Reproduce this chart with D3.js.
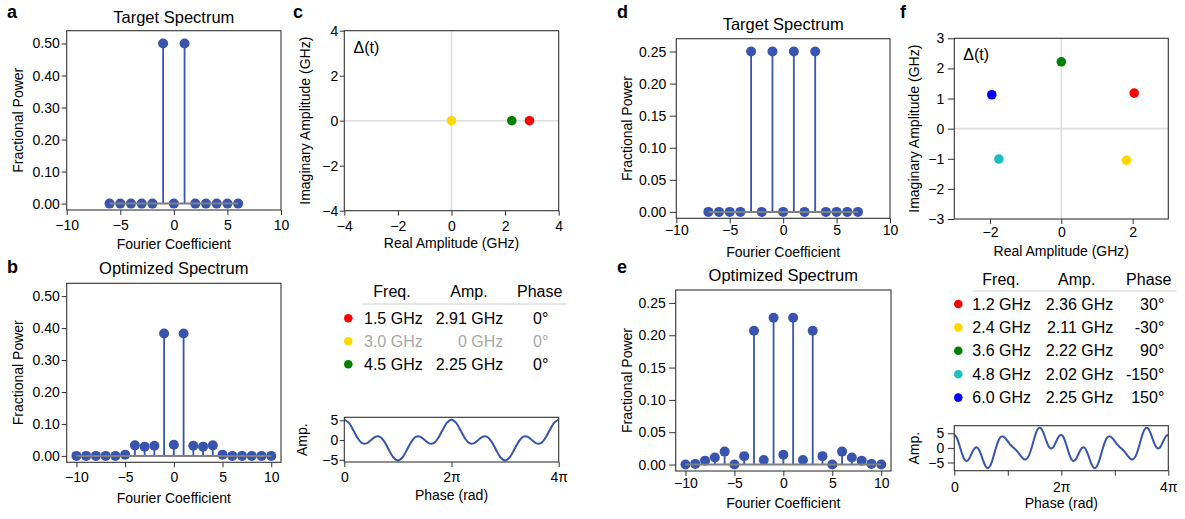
<!DOCTYPE html>
<html>
<head>
<meta charset="utf-8">
<script src="https://cdn.jsdelivr.net/npm/d3@7"></script>
<style>
  body { margin: 0; background: #fff; }
  svg { display: block; font-family: "Liberation Sans", Arial, Helvetica, sans-serif; }
</style>
</head>
<body>
<script>
// ---------- data ----------
// (a) target spectrum, two-tone drive
const targetACoeff = [-6, -5, -4, -3, -2, -1, 0, 1, 2, 3, 4, 5, 6];
const targetAPower = [0, 0, 0, 0, 0, 0.5, 0, 0.5, 0, 0, 0, 0, 0];

// (b) optimized spectrum
const optimBCoeff = [-10, -9, -8, -7, -6, -5, -4, -3, -2, -1, 0, 1, 2, 3, 4, 5, 6, 7, 8, 9, 10];
const optimBPower = [0, 0, 0, 0, 0, 0.004, 0.033, 0.029, 0.032, 0.383, 0.035, 0.383, 0.032, 0.029, 0.033, 0.004, 0, 0, 0, 0, 0];

// (c) drive components
const freqC = [1.5, 3.0, 4.5];
const ampC = [2.91, 0, 2.25];
const phaseC = [0, 0, 0];
const colorC = ["#ff0000", "#ffd700", "#008000"];

// (c) waveform Δ(t), sampled every π/12 from 0 to 4π
const waveCStep = Math.PI / 12;
const waveCAmp = [
  5.16, 4.40, 2.52, 0.47, -0.80, -0.84, 0, 0.84, 0.80, -0.47, -2.52, -4.40,
  -5.16, -4.40, -2.52, -0.47, 0.80, 0.84, 0, -0.84, -0.80, 0.47, 2.52, 4.40,
  5.16, 4.40, 2.52, 0.47, -0.80, -0.84, 0, 0.84, 0.80, -0.47, -2.52, -4.40,
  -5.16, -4.40, -2.52, -0.47, 0.80, 0.84, 0, -0.84, -0.80, 0.47, 2.52, 4.40,
  5.16
];

// (d) target spectrum, four-tone drive
const targetDCoeff = [-7, -6, -5, -4, -3, -2, -1, 0, 1, 2, 3, 4, 5, 6, 7];
const targetDPower = [0, 0, 0, 0, 0.25, 0, 0.25, 0, 0.25, 0, 0.25, 0, 0, 0, 0];

// (e) optimized spectrum
const optimECoeff = [-10, -9, -8, -7, -6, -5, -4, -3, -2, -1, 0, 1, 2, 3, 4, 5, 6, 7, 8, 9, 10];
const optimEPower = [0, 0.001, 0.006, 0.011, 0.020, 0, 0.013, 0.207, 0.007, 0.227, 0.015, 0.227, 0.007, 0.207, 0.013, 0, 0.020, 0.011, 0.006, 0.001, 0];

// (f) drive components
const freqF = [1.2, 2.4, 3.6, 4.8, 6.0];
const ampF = [2.36, 2.11, 2.22, 2.02, 2.25];
const phaseF = [30, -30, 90, -150, 150];
const colorF = ["#ff0000", "#ffd700", "#008000", "#1cc0c0", "#0000ff"];

// (f) waveform Δ(t), sampled every π/36 from 0 to 4π
const waveFStep = Math.PI / 36;
const waveFAmp = [
  4.45, 4.02, 3.04, 1.64, 0, -1.64, -3.04, -4.02, -4.45, -4.30, -3.66, -2.69,
  -1.59, -0.62, 0.03, 0.20, -0.17, -1.05, -2.30, -3.74, -5.12, -6.21, -6.83, -6.86,
  -6.27, -5.13, -3.57, -1.80, -0.02, 1.57, 2.80, 3.60, 3.95, 3.88, 3.49, 2.91,
  2.25, 1.59, 1.00, 0.48, 0, -0.48, -1.00, -1.59, -2.25, -2.91, -3.49, -3.88,
  -3.95, -3.60, -2.80, -1.57, 0.02, 1.80, 3.57, 5.13, 6.27, 6.86, 6.83, 6.21,
  5.12, 3.74, 2.30, 1.05, 0.17, -0.20, -0.03, 0.62, 1.59, 2.69, 3.66, 4.30,
  4.45, 4.02, 3.04, 1.64, 0, -1.64, -3.04, -4.02, -4.45, -4.30, -3.66, -2.69,
  -1.59, -0.62, 0.03, 0.20, -0.17, -1.05, -2.30, -3.74, -5.12, -6.21, -6.83, -6.86,
  -6.27, -5.13, -3.57, -1.80, -0.02, 1.57, 2.80, 3.60, 3.95, 3.88, 3.49, 2.91,
  2.25, 1.59, 1.00, 0.48, 0, -0.48, -1.00, -1.59, -2.25, -2.91, -3.49, -3.88,
  -3.95, -3.60, -2.80, -1.57, 0.02, 1.80, 3.57, 5.13, 6.27, 6.86, 6.83, 6.21,
  5.12, 3.74, 2.30, 1.05, 0.17, -0.20, -0.03, 0.62, 1.59, 2.69, 3.66, 4.30,
  4.45
];

// tick labels
const coeffTicks = [-10, -5, 0, 5, 10];
const powerTicksAB = [0, 0.1, 0.2, 0.3, 0.4, 0.5];
const powerTicksDE = [0, 0.05, 0.1, 0.15, 0.2, 0.25];
const iqTicksC = [-4, -2, 0, 2, 4];
const iqTicksF = [-3, -2, -1, 0, 1, 2, 3];
const iqXTicksF = [-2, 0, 2];
const waveYTicks = [-5, 0, 5];
const phaseTicks = [0, Math.PI, 2 * Math.PI, 3 * Math.PI, 4 * Math.PI];
const phaseTickText = ["0", "", "2π", "", "4π"];
const tableHeaders = ["Freq.", "Amp.", "Phase"];

// ---------- styling ----------
const BLUE = "#3854ae";
const SPINE = "#333";
const GREYLINE = "#7f7f7f";
const TICK_FS = 14;

const svg = d3.select("body").append("svg")
  .attr("width", 1185).attr("height", 519);

function makePanel(box, xDom, yDom) {
  const g = svg.append("g").attr("transform", `translate(${box.l},${box.t})`);
  const w = box.r - box.l, h = box.b - box.t;
  const x = d3.scaleLinear().domain(xDom).range([0, w]);
  const y = d3.scaleLinear().domain(yDom).range([h, 0]);
  return { g, x, y, w, h, box };
}

function drawAxes(p, o) {
  const xa = d3.axisBottom(p.x).tickValues(o.xTicks).tickFormat(o.xFmt)
    .tickSize(o.xSize).tickPadding(o.xPad).tickSizeOuter(0);
  const ya = d3.axisLeft(p.y).tickValues(o.yTicks).tickFormat(o.yFmt)
    .tickSize(o.ySize).tickPadding(o.yPad).tickSizeOuter(0);
  [p.g.append("g").attr("transform", `translate(0,${p.h})`).call(xa),
   p.g.append("g").call(ya)].forEach(a => {
    a.select(".domain").remove();
    a.selectAll(".tick line").attr("stroke", SPINE).attr("stroke-width", 1);
    a.selectAll(".tick text").attr("fill", "#000")
      .style("font-size", TICK_FS + "px")
      .style("font-family", '"Liberation Sans", Arial, sans-serif');
  });
}

function drawFrame(p) {
  p.g.append("rect").attr("x", 0).attr("y", 0)
    .attr("width", p.w).attr("height", p.h)
    .attr("fill", "none").attr("stroke", SPINE).attr("stroke-width", 1.1);
}

function text(str, x, y, opts = {}) {
  const t = svg.append("text").attr("x", x).attr("y", y).text(str)
    .attr("fill", opts.fill || "#000")
    .attr("text-anchor", opts.anchor || "start")
    .style("font-size", (opts.size || 14) + "px");
  if (opts.bold) t.style("font-weight", "bold");
  return t;
}

function vtext(str, x, yc, size = 14) {
  svg.append("text").attr("transform", `translate(${x},${yc}) rotate(-90)`)
    .attr("text-anchor", "middle").attr("fill", "#000")
    .style("font-size", size + "px").text(str);
}

function stemPanel(p, coeff, power) {
  const pts = coeff.map((k, i) => ({ k, v: power[i] }));
  p.g.selectAll(null).data(pts).enter().append("line")
    .attr("x1", d => p.x(d.k)).attr("x2", d => p.x(d.k))
    .attr("y1", p.y(0)).attr("y2", d => p.y(d.v))
    .attr("stroke", BLUE).attr("stroke-width", 1.8);
  p.g.selectAll(null).data(pts).enter().append("circle")
    .attr("cx", d => p.x(d.k)).attr("cy", d => p.y(d.v)).attr("r", 5)
    .attr("fill", BLUE);
  p.g.append("line")
    .attr("x1", p.x(d3.min(coeff))).attr("x2", p.x(d3.max(coeff)))
    .attr("y1", p.y(0)).attr("y2", p.y(0))
    .attr("stroke", GREYLINE).attr("stroke-width", 2);
}

function iqPanel(p, amp, phase, color) {
  p.g.append("line").attr("x1", p.x(0)).attr("x2", p.x(0))
    .attr("y1", 0).attr("y2", p.h).attr("stroke", "#dedede").attr("stroke-width", 1.6);
  p.g.append("line").attr("x1", 0).attr("x2", p.w)
    .attr("y1", p.y(0)).attr("y2", p.y(0)).attr("stroke", "#dedede").attr("stroke-width", 1.6);
  const pts = amp.map((a, i) => ({
    re: a * Math.cos(phase[i] * Math.PI / 180),
    im: a * Math.sin(phase[i] * Math.PI / 180),
    c: color[i]
  }));
  p.g.selectAll(null).data(pts).enter().append("circle")
    .attr("cx", d => p.x(d.re)).attr("cy", d => p.y(d.im)).attr("r", 4.8)
    .attr("fill", d => d.c);
}

function wavePanel(p, values, step) {
  const line = d3.line()
    .x((d, i) => p.x(i * step)).y(d => p.y(d))
    .curve(d3.curveCatmullRom.alpha(0.5));
  p.g.append("path").datum(values).attr("d", line)
    .attr("fill", "none").attr("stroke", BLUE).attr("stroke-width", 2);
}

function drawTable(t, freq, amp, phase, color) {
  tableHeaders.forEach((h, i) => text(h, t.headX[i], t.headY, { size: 16, anchor: "middle" }));
  svg.append("line").attr("x1", t.lineX1).attr("x2", t.lineX2)
    .attr("y1", t.lineY).attr("y2", t.lineY)
    .attr("stroke", "#d0d0d0").attr("stroke-width", 1);
  freq.forEach((f, i) => {
    const yc = t.rowY0 + i * t.rowStep;
    const fill = amp[i] === 0 ? "#a8a8a8" : "#000";
    svg.append("circle").attr("cx", t.dotX).attr("cy", yc).attr("r", 4.3).attr("fill", color[i]);
    text(`${f.toFixed(1)} GHz`, t.freqX, yc + 5.6, { size: 16, fill });
    text(`${amp[i] === 0 ? "0" : amp[i].toFixed(2)} GHz`, t.ampRight, yc + 5.6, { size: 16, fill, anchor: "end" });
    text(`${phase[i]}°`, t.phaseRight, yc + 5.6, { size: 16, fill, anchor: "end" });
  });
}

const fmt2 = d3.format(".2f");
const fmtInt = d3.format("d");

// ---------- (a) ----------
const pA = makePanel({ l: 66.7, r: 281, t: 30.7, b: 210 }, [-10, 10], [-0.02, 0.54]);
stemPanel(pA, targetACoeff, targetAPower);
drawAxes(pA, { xTicks: coeffTicks, xFmt: fmtInt, xSize: 5, xPad: 5,
  yTicks: powerTicksAB, yFmt: fmt2, ySize: 5, yPad: 2 });
drawFrame(pA);
text("Target Spectrum", 173.8, 22.7, { size: 16.5, anchor: "middle" });
text("Fourier Coefficient", 173.8, 249, { anchor: "middle" });
vtext("Fractional Power", 22.7, 120.3);
text("a", 7, 17.5, { size: 18, bold: true });

// ---------- (b) ----------
const pB = makePanel({ l: 66.7, r: 281, t: 283.3, b: 462.3 }, [-11, 11], [-0.02, 0.54]);
stemPanel(pB, optimBCoeff, optimBPower);
drawAxes(pB, { xTicks: coeffTicks, xFmt: fmtInt, xSize: 5, xPad: 5,
  yTicks: powerTicksAB, yFmt: fmt2, ySize: 5, yPad: 2 });
drawFrame(pB);
text("Optimized Spectrum", 173.8, 274, { size: 16.5, anchor: "middle" });
text("Fourier Coefficient", 173.8, 503, { anchor: "middle" });
vtext("Fractional Power", 22.7, 372.8);
text("b", 7, 273.3, { size: 18, bold: true });

// ---------- (c) ----------
const pC = makePanel({ l: 344.3, r: 558.7, t: 30.7, b: 210.7 }, [-4, 4], [-4, 4]);
iqPanel(pC, ampC, phaseC, colorC);
drawAxes(pC, { xTicks: iqTicksC, xFmt: fmtInt, xSize: 5, xPad: 5,
  yTicks: iqTicksC, yFmt: fmtInt, ySize: 4.5, yPad: 1.5 });
drawFrame(pC);
text("Δ(t)", 353.5, 52.5, { size: 16 });
text("Real Amplitude (GHz)", 451.5, 247.5, { anchor: "middle" });
vtext("Imaginary Amplitude (GHz)", 309.7, 120.7);
text("c", 293, 17.5, { size: 18, bold: true });

drawTable({ headX: [392, 469, 539.7], headY: 296.5, lineX1: 361.7, lineX2: 566.7, lineY: 304,
  rowY0: 318.3, rowStep: 23, dotX: 348.3, freqX: 364, ampRight: 503.3, phaseRight: 548.3 },
  freqC, ampC, phaseC, colorC);

const pCw = makePanel({ l: 344.3, r: 558.7, t: 417.3, b: 462 }, [0, 4 * Math.PI], [-5.55, 5.75]);
wavePanel(pCw, waveCAmp, waveCStep);
drawAxes(pCw, { xTicks: [0, 2 * Math.PI, 4 * Math.PI], xFmt: (d, i) => ["0", "2π", "4π"][i], xSize: 5, xPad: 4.7,
  yTicks: waveYTicks, yFmt: fmtInt, ySize: 4.5, yPad: 1.5 });
drawFrame(pCw);
text("Phase (rad)", 451.5, 499.5, { anchor: "middle" });
vtext("Amp.", 307, 439.7);

// ---------- (d) ----------
const pD = makePanel({ l: 676.3, r: 890, t: 38.7, b: 218.3 }, [-10, 10], [-0.01, 0.27]);
stemPanel(pD, targetDCoeff, targetDPower);
drawAxes(pD, { xTicks: coeffTicks, xFmt: fmtInt, xSize: 5, xPad: 2,
  yTicks: powerTicksDE, yFmt: fmt2, ySize: 6.5, yPad: 3.5 });
drawFrame(pD);
text("Target Spectrum", 783.2, 30, { size: 16.5, anchor: "middle" });
text("Fourier Coefficient", 783.2, 256.7, { anchor: "middle" });
vtext("Fractional Power", 631.7, 128.5);
text("d", 617, 17.5, { size: 18, bold: true });

// ---------- (e) ----------
const pE = makePanel({ l: 675.7, r: 891, t: 290, b: 471 }, [-11, 11], [-0.01, 0.27]);
stemPanel(pE, optimECoeff, optimEPower);
drawAxes(pE, { xTicks: coeffTicks, xFmt: fmtInt, xSize: 5, xPad: 2,
  yTicks: powerTicksDE, yFmt: fmt2, ySize: 6.5, yPad: 3.5 });
drawFrame(pE);
text("Optimized Spectrum", 783.3, 280.7, { size: 16.5, anchor: "middle" });
text("Fourier Coefficient", 783.3, 508.3, { anchor: "middle" });
vtext("Fractional Power", 631.7, 380.5);
text("e", 617, 273.3, { size: 18, bold: true });

// ---------- (f) ----------
const pF = makePanel({ l: 954.3, r: 1168.3, t: 38.3, b: 219 }, [-3, 3], [-3, 3]);
iqPanel(pF, ampF, phaseF, colorF);
drawAxes(pF, { xTicks: iqXTicksF, xFmt: fmtInt, xSize: 5, xPad: 3.5,
  yTicks: iqTicksF, yFmt: fmtInt, ySize: 6.5, yPad: 3.5 });
drawFrame(pF);
text("Δ(t)", 963.3, 59.5, { size: 16 });
text("Real Amplitude (GHz)", 1061.3, 256, { anchor: "middle" });
vtext("Imaginary Amplitude (GHz)", 919, 128.7);
text("f", 900, 17.5, { size: 18, bold: true });

drawTable({ headX: [1001, 1076.7, 1148.8], headY: 284.8, lineX1: 972.3, lineX2: 1176.7, lineY: 291,
  rowY0: 304, rowStep: 23.4, dotX: 958.3, freqX: 972.3, ampRight: 1113.3, phaseRight: 1164.3 },
  freqF, ampF, phaseF, colorF);

const pFw = makePanel({ l: 954.3, r: 1168.3, t: 425.7, b: 470.7 }, [0, 4 * Math.PI], [-7.8, 7.6]);
wavePanel(pFw, waveFAmp, waveFStep);
drawAxes(pFw, { xTicks: phaseTicks, xFmt: (d, i) => phaseTickText[i], xSize: 5, xPad: 6,
  yTicks: waveYTicks, yFmt: fmtInt, ySize: 6.5, yPad: 3.5 });
drawFrame(pFw);
text("Phase (rad)", 1061.3, 507.5, { anchor: "middle" });
vtext("Amp.", 919, 448.2);
</script>
</body>
</html>
